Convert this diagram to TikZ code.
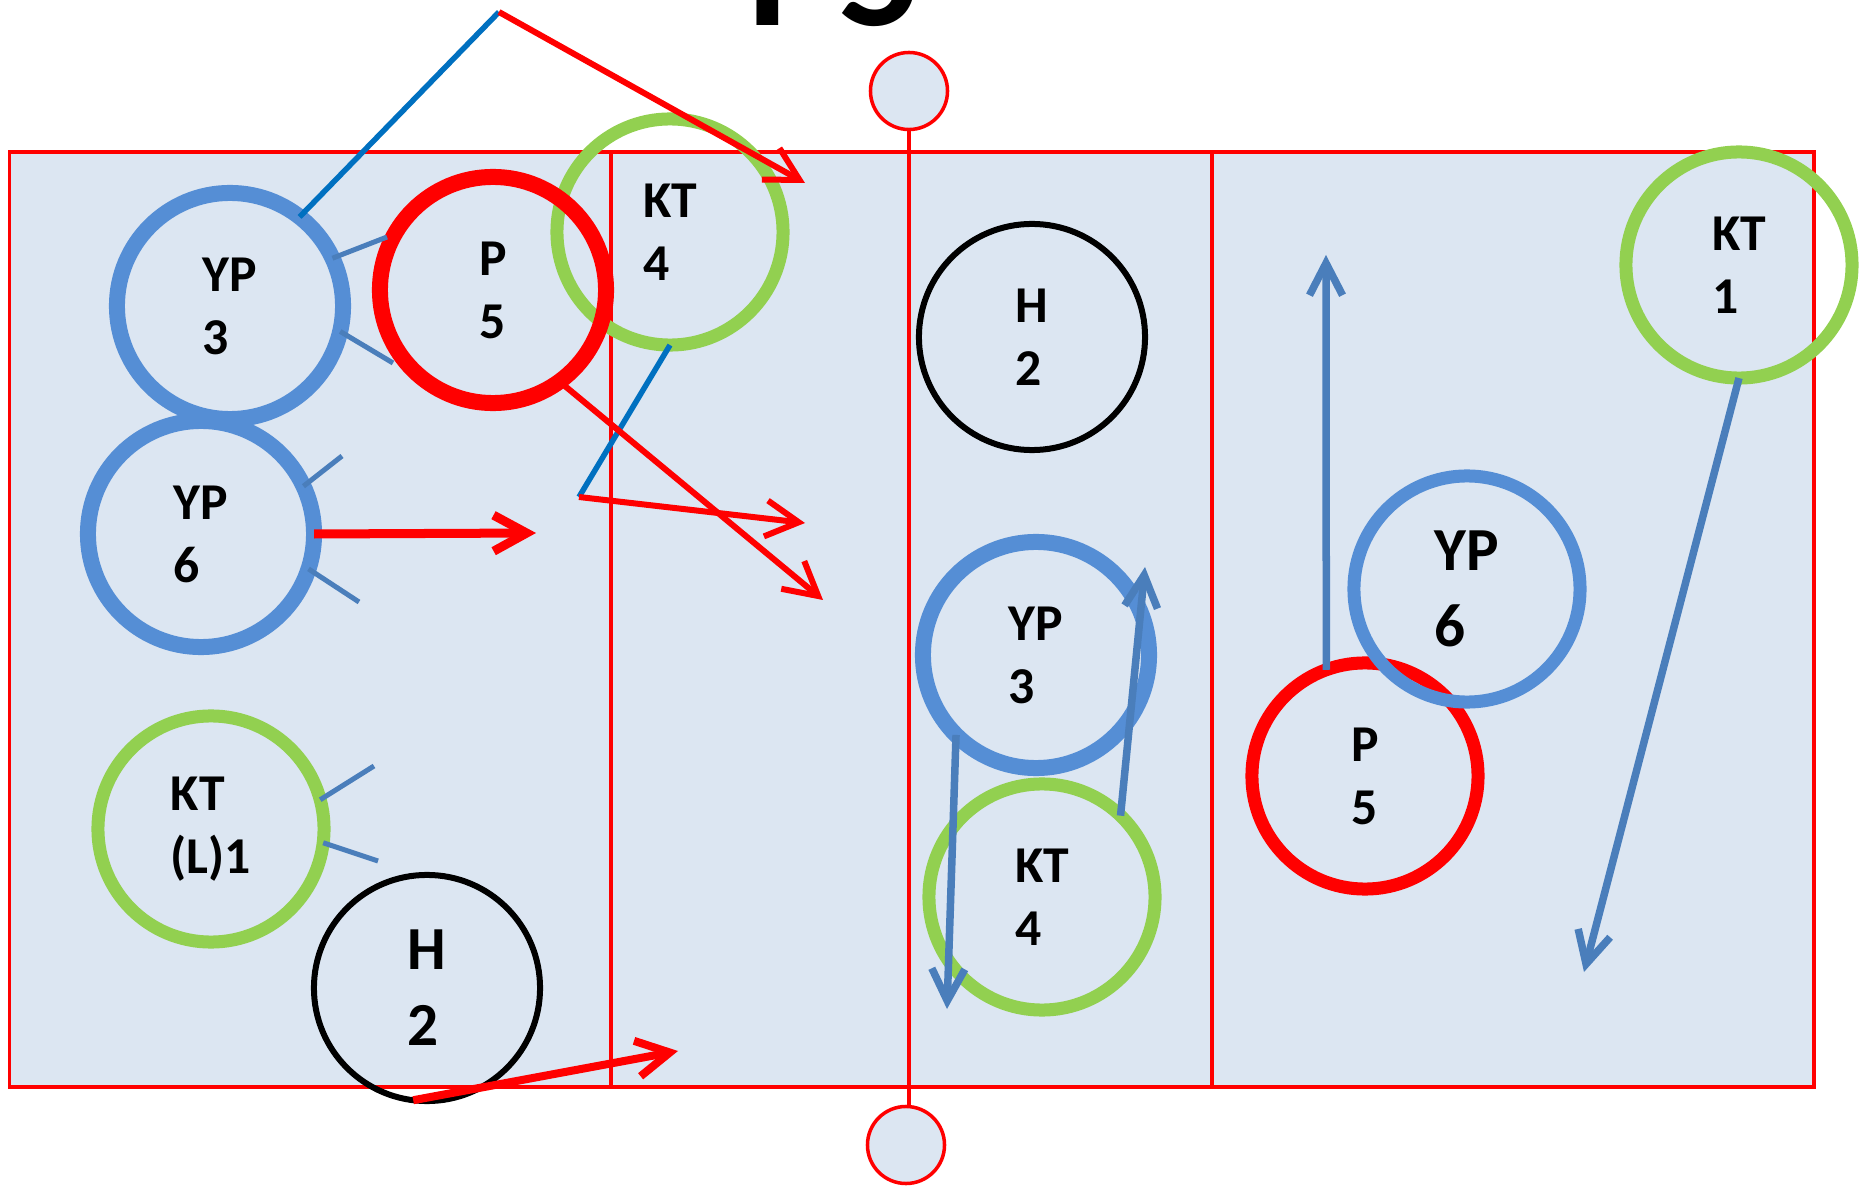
\documentclass[tikz,border=0pt]{standalone}
\usepackage{fontspec}
\setmainfont{Carlito}
\usetikzlibrary{arrows.meta}
\definecolor{courtfill}{RGB}{220,230,242}
\definecolor{ypblue}{RGB}{85,142,213}
\definecolor{ktgreen}{RGB}{146,208,80}
\definecolor{passblue}{RGB}{0,112,192}
\definecolor{moveblue}{RGB}{74,126,187}

\begin{document}
\begin{tikzpicture}[x=0.01cm,y=-0.01cm,
  player/.style={circle,minimum size=2.26cm,inner sep=0pt,outer sep=0pt,align=left,
    font=\fontsize{14.7}{17.9}\selectfont\bfseries},
  big/.style={font=\fontsize{17.4}{21.6}\selectfont\bfseries},
  yp/.style={player,draw=ypblue,line width=0.16cm},
  ps/.style={player,draw=red,line width=0.16cm},
  kt/.style={player,draw=ktgreen,line width=0.13cm},
  hk/.style={player,draw=black,line width=0.06cm},
  post/.style={circle,minimum size=0.77cm,inner sep=0pt,fill=courtfill,draw=red,line width=0.035cm},
  courtline/.style={red,line width=0.035cm},
  ball/.style={red,line width=0.06cm,-{Straight Barb[length=0.33cm,width=0.36cm]}},
  pass/.style={passblue,line width=0.055cm},
  run/.style={moveblue,line width=0.075cm,-{Straight Barb[length=0.32cm,width=0.33cm]}},
  arm/.style={moveblue,line width=0.05cm}]
\useasboundingbox (0,0) rectangle (1859,1188);
\node[anchor=base west,inner sep=0pt,font=\fontsize{48}{58}\selectfont\bfseries] (title) at (747,26) {P5};
% court
\fill[courtfill] (9.5,152) rectangle (1814,1087);
\draw[courtline] (9.5,152) rectangle (1814,1087);
\draw[courtline] (611,152) -- (611,1087);
\draw[courtline] (1212,152) -- (1212,1087);
\node[post] (netup) at (909,91) {};
\node[post] (netdown) at (906,1145) {};
\draw[courtline] (netup) -- (netup |- netdown.north);
% players
\node[yp] (yp6l) at (201,534) {YP\\6};
\node[yp] (yp3l) at (230,306) {YP\\3};
\node[kt] (kt4l) at (670,232) {KT\\4};
\node[ps] (p5l) at (493,290) {P\\5};
\node[kt] (kt1l) at (211,829) {KT\\(L)1};
\node[hk,big] (h2l) at (427,988) {H\\2};
\node[hk] (h2c) at (1032,337) {H\\2};
\node[yp] (yp3c) at (1036,655) {YP\\3};
\node[kt] (kt4c) at (1042,897) {KT\\4};
\node[ps,line width=0.13cm] (p5r) at (1365,776) {P\\5};
\node[yp,big,line width=0.13cm] (yp6r) at (1467,589) {YP\\6};
\node[kt] (kt1r) at (1739,265) {KT\\1};
% ball
\coordinate (serve1) at (499,12);
\coordinate (hit1) at (805,183);
\coordinate (serve2) at (579,497);
\coordinate (hit2) at (805,523);
\coordinate (hit3) at (823,600);
\coordinate (hit4) at (536,533);
\coordinate (hit5) at (678,1051);
\draw[pass] (yp3l.52) -- (serve1);
\draw[ball] (serve1) -- (hit1);
\draw[pass] (kt4l.south) -- (serve2);
\draw[ball] (serve2) -- (hit2);
\draw[ball] (p5l.-54) -- (hit3);
\draw[ball,line width=0.09cm] (yp6l.east) -- (hit4);
\draw[ball,line width=0.08cm] (h2l.-97) -- (hit5);
% arms
\coordinate (arm1) at (387,237);
\coordinate (arm2) at (393,363);
\coordinate (arm3) at (342,456);
\coordinate (arm4) at (359,602);
\coordinate (arm5) at (374,766);
\coordinate (arm6) at (378,861);
\draw[arm] (yp3l.25) -- (arm1);
\draw[arm] (yp3l.-13) -- (arm2);
\draw[arm] (yp6l.25) -- (arm3);
\draw[arm] (yp6l.-18) -- (arm4);
\draw[arm] (kt1l.15) -- (arm5);
\draw[arm] (kt1l.-7) -- (arm6);
% runs
\coordinate (run1) at (947,1009);
\coordinate (run2) at (1145,567);
\coordinate (run3) at (1326,255);
\coordinate (run4) at (1584,972);
\draw[run] (yp3c.-135) -- (run1);
\draw[run] (kt4c.46) -- (run2);
\draw[run] (p5r.110) -- (run3);
\draw[run] (kt1r.south) -- (run4);
\end{tikzpicture}
\end{document}
